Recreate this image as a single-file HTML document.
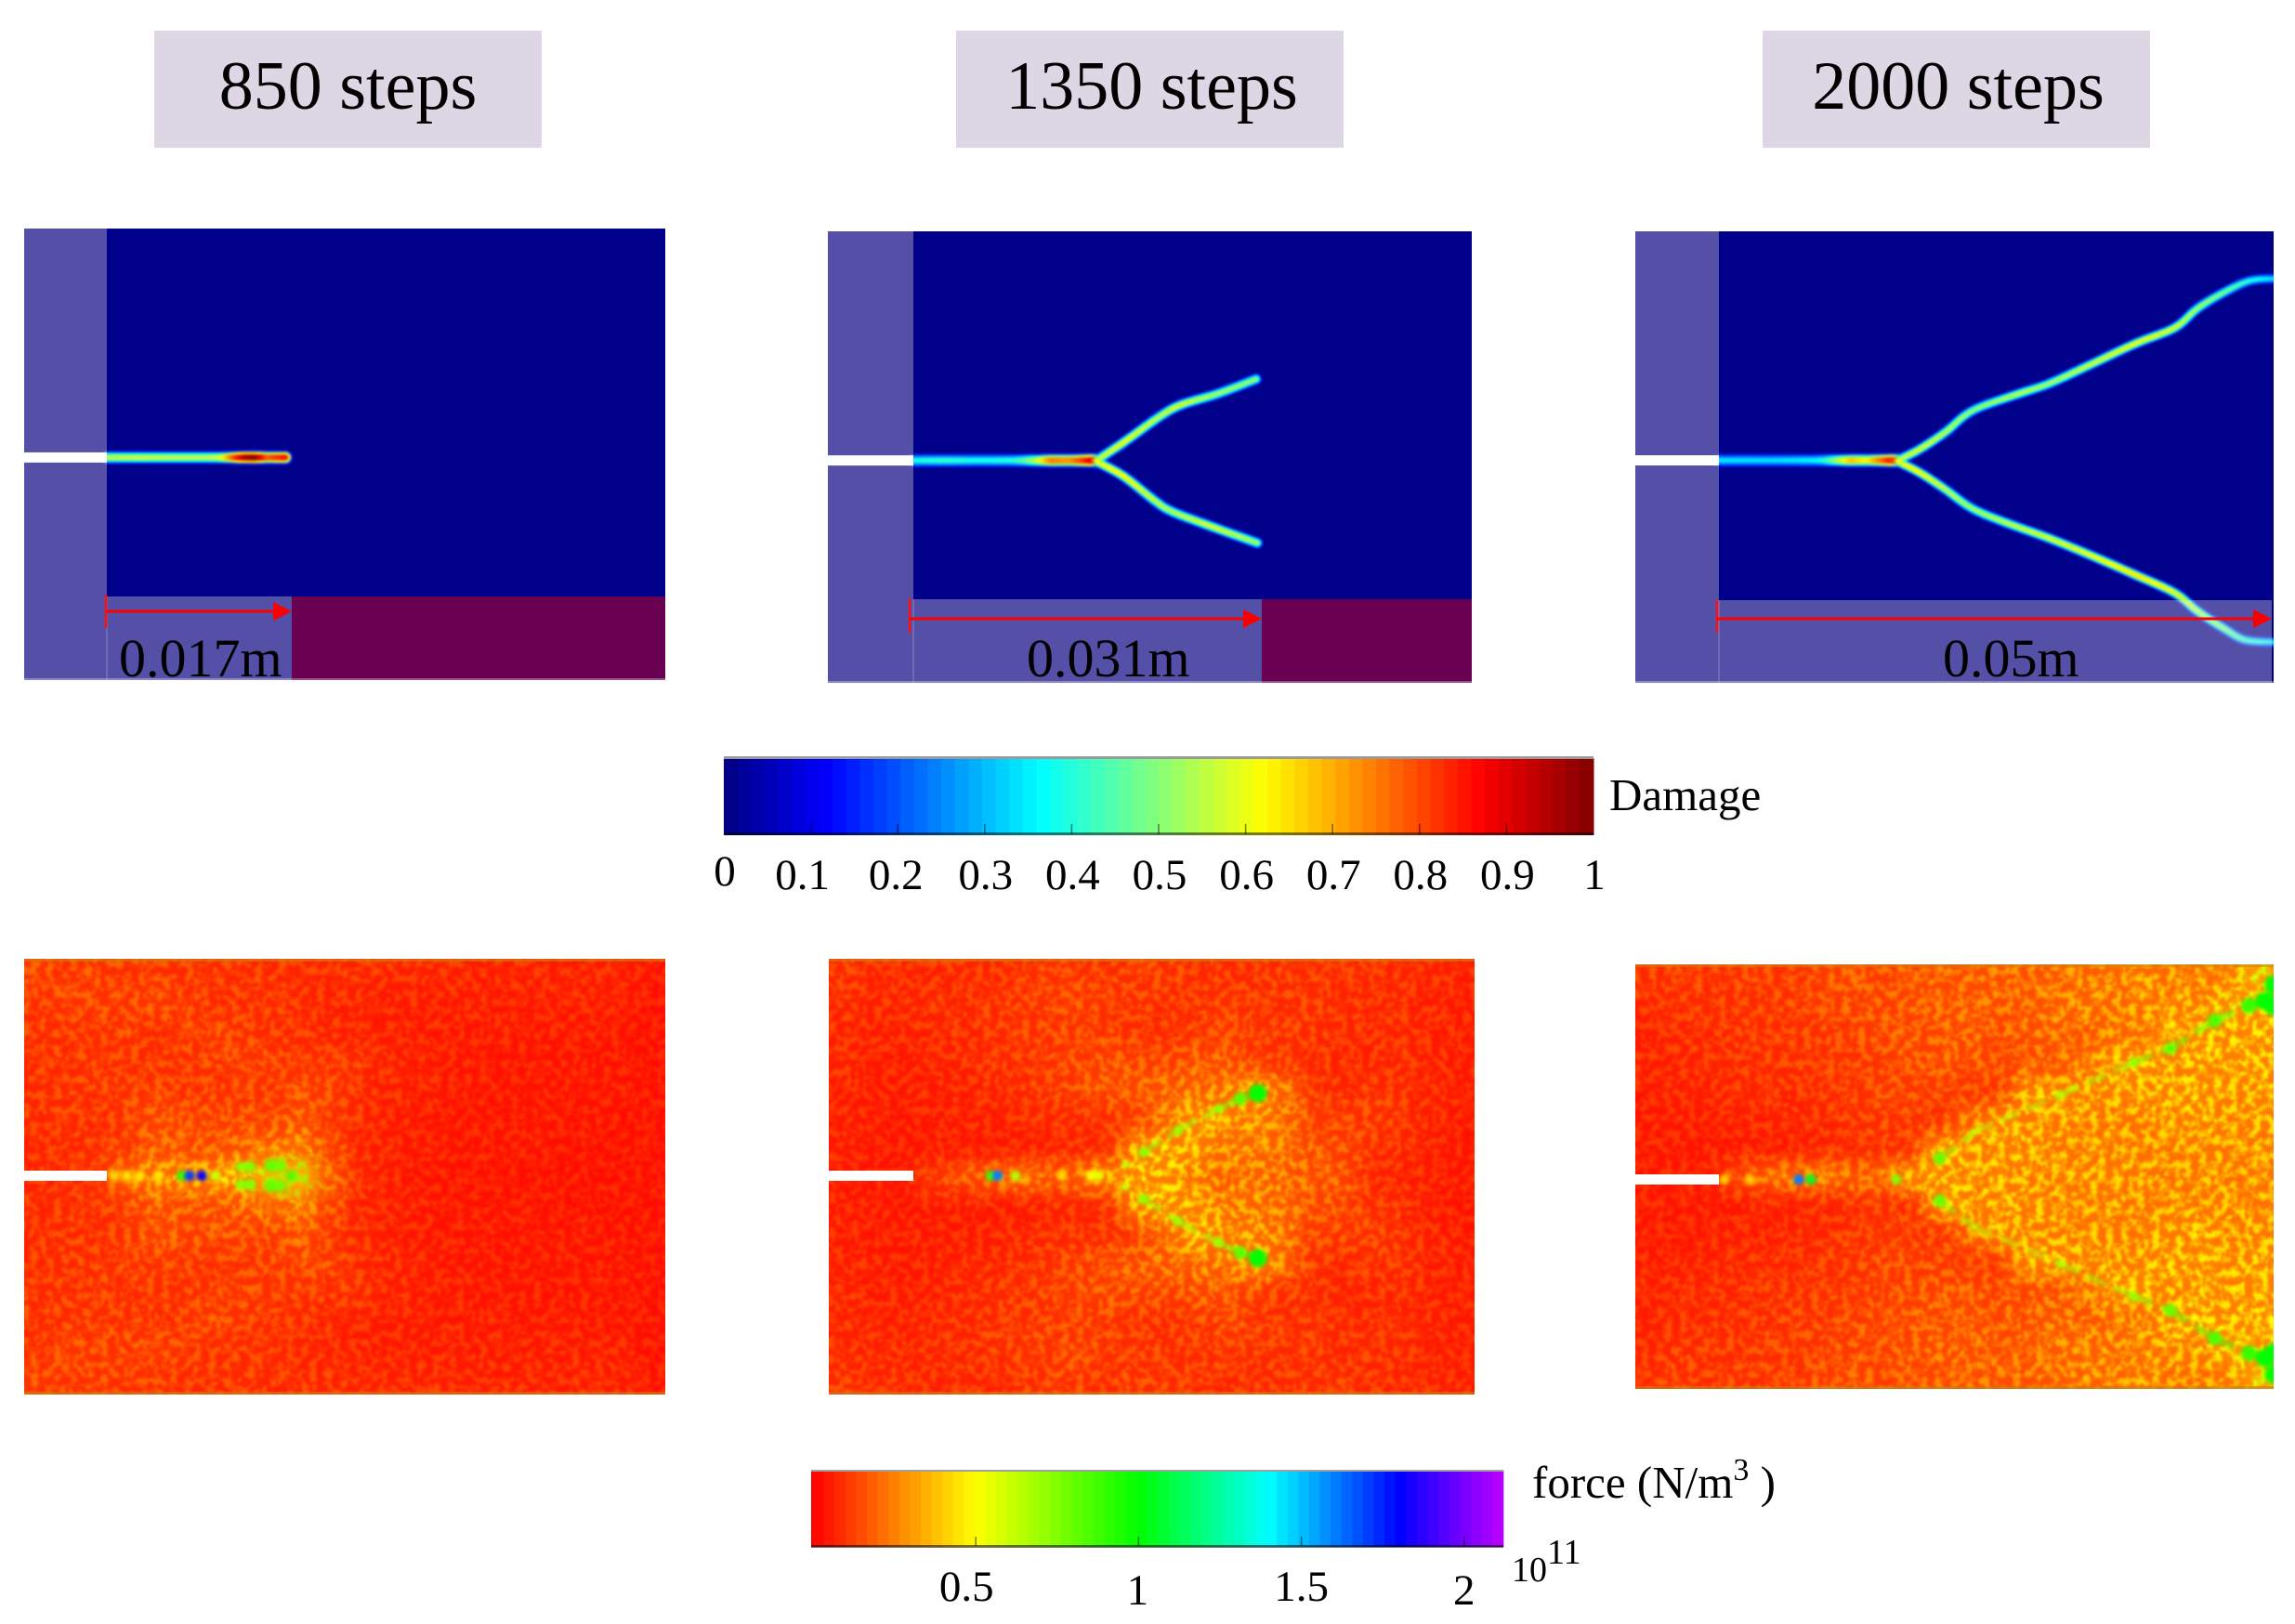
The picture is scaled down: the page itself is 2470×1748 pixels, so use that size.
<!DOCTYPE html>
<html lang="en">
<head>
<meta charset="utf-8">
<title>Crack propagation: damage and force fields</title>
<style>
html,body{margin:0;padding:0;background:#fff;width:2470px;height:1748px;overflow:hidden}
svg{display:block}
text{font-family:"Liberation Serif",serif;fill:#000}
</style>
</head>
<body>
<svg id="figure" xmlns="http://www.w3.org/2000/svg" width="2470" height="1748" viewBox="0 0 2470 1748">
<defs>
<filter id="crackBlur" filterUnits="userSpaceOnUse" x="0" y="0" width="2470" height="1748" color-interpolation-filters="sRGB"><feGaussianBlur stdDeviation="1.3"/></filter>
<filter id="fieldBlur" filterUnits="userSpaceOnUse" x="0" y="980" width="2470" height="570" color-interpolation-filters="sRGB"><feGaussianBlur stdDeviation="10"/></filter>
<filter id="spotBlur" filterUnits="userSpaceOnUse" x="0" y="980" width="2470" height="570" color-interpolation-filters="sRGB"><feGaussianBlur stdDeviation="2"/></filter>
<filter id="speckle" filterUnits="userSpaceOnUse" x="0" y="980" width="2470" height="570" color-interpolation-filters="sRGB">
<feGaussianBlur in="SourceGraphic" stdDeviation="10" result="soft"/>
<feTurbulence type="fractalNoise" baseFrequency="0.12" numOctaves="3" seed="4" result="noise"/>
<feColorMatrix in="noise" type="matrix" values="0 0 0 0 0 0 0 0 0 0 0 0 0 0 0 4 0 0 0 -1.7" result="mask"/>
<feGaussianBlur in="mask" stdDeviation="1" result="softMask"/>
<feComposite in="soft" in2="softMask" operator="in"/>
</filter>
<clipPath id="clip-damage-850"><rect x="26" y="246" width="690" height="486"/></clipPath>
<clipPath id="clip-damage-1350"><rect x="891" y="249" width="693" height="486"/></clipPath>
<clipPath id="clip-damage-2000"><rect x="1760" y="249" width="687" height="486"/></clipPath>
<clipPath id="clip-force-850"><rect x="26" y="1032" width="690" height="469"/></clipPath>
<clipPath id="clip-force-1350"><rect x="892" y="1032" width="695" height="469"/></clipPath>
<clipPath id="clip-force-2000"><rect x="1760" y="1038" width="687" height="457"/></clipPath>
</defs>

<g>
<rect x="166" y="33" width="417" height="126" fill="#dcd6e5"/>
<text x="374.5" y="117" font-size="74" text-anchor="middle">850 steps</text>
<rect x="1029" y="33" width="417" height="126" fill="#dcd6e5"/>
<text x="1239.5" y="117" font-size="74" text-anchor="middle">1350 steps</text>
<rect x="1897" y="33" width="417" height="126" fill="#dcd6e5"/>
<text x="2107.5" y="117" font-size="74" text-anchor="middle">2000 steps</text>
</g>

<g id="damagePanels"></g>
<g id="forcePanels"></g>

<g id="damageBar"></g>
<text x="1732" y="872" font-size="49">Damage</text>

<g id="forceBar"></g>
<text x="1649" y="1612" font-size="49">force (N/m<tspan font-size="34" dy="-19">3</tspan><tspan dy="19"> )</tspan></text>
<text x="1627" y="1702" font-size="38">10<tspan dy="-19">11</tspan></text>
</svg>

<script>
// ---------- colour scale values ----------
const damageStopValues = [0, 0.12, 0.365, 0.62, 0.87, 1];
const damageStopColors = [[0,0,130],[0,0,255],[0,255,255],[255,255,0],[255,0,0],[128,0,0]];
const forceStopValues = [0, 0.5, 1, 1.4, 1.8, 2.12];
const forceStopColors = [[255,0,0],[255,255,0],[0,255,0],[0,255,255],[0,0,255],[190,0,255]];

// ---------- colourbar ticks ----------
const damageTicks = [0, 0.1, 0.2, 0.3, 0.4, 0.5, 0.6, 0.7, 0.8, 0.9, 1];
const damageTickLabels = ['0', '0.1', '0.2', '0.3', '0.4', '0.5', '0.6', '0.7', '0.8', '0.9', '1'];
const forceTicks = [0.5, 1, 1.5, 2];
const forceTickLabels = ['0.5', '1', '1.5', '2'];

// ---------- crack paths: [x mm from notch, y mm from centre, damage] ----------
const crack850Stem = [[0,0,.55],[3,0,.56],[6,0,.55],[9,0,.55],[10.3,0,.58],[11.5,0,.8],[12.5,0,.95],[13.5,0,.98],[14.5,0,.78],[15.3,0,.82],[16,0,.85]];
const crack1350Stem = [[0,0,.38],[3,0,.41],[6,0,.38],[9,0,.4],[10,0,.45],[11.3,0,.58],[12.5,0,.75],[14,0,.72],[15.2,0,.8],[16,0,.9],[16.4,0,.7]];
const crack1350Upper = [[16.4,0,.55],[18.8,1.6,.6],[22,3.9,.55],[24,5,.58],[27.3,6,.52],[30.7,7.3,.5]];
const crack1350Lower = [[16.4,-.1,.6],[18.8,-1.4,.62],[21.6,-3.6,.56],[23.2,-4.6,.54],[26.9,-6,.58],[30.8,-7.4,.52]];
const crack2000Stem = [[0,0,.34],[5,0,.33],[9,0,.36],[10.5,0,.5],[12,0,.68],[13.5,0,.62],[15.5,0,.85],[16.1,0,.75]];
const crack2000Upper = [[16.1,0,.55],[18.1,1,.58],[20.5,2.6,.55],[22,3.9,.52],[23.6,4.8,.5],[27.1,6,.55],[29.8,6.9,.52],[33.3,8.5,.56],[37.6,10.5,.6],[41.1,11.9,.58],[43.1,13.6,.52],[45.4,15,.48],[47.8,16.1,.4],[50,16.3,.33]];
const crack2000Lower = [[16.1,-.1,.6],[18.1,-1.1,.62],[20.4,-2.6,.56],[22.8,-4.3,.52],[25.9,-5.6,.55],[29.8,-7,.58],[33.7,-8.6,.6],[37.6,-10.3,.64],[41.1,-11.9,.6],[43.1,-13.5,.55],[45.4,-15,.5],[47.4,-16.1,.42],[50,-16.3,.34]];

// ---------- force field grids, 1e11 N/m^3, top row to centre row (mirrored below) ----------
const force850Rows = [
[.16,.14,.15,.13,.14,.12,.12,.12,.11,.11,.1,.1,.09,.09,.09,.08,.08,.08,.08,.08,.08,.05],
[.13,.16,.15,.15,.17,.14,.12,.12,.12,.1,.09,.08,.07,.07,.07,.07,.07,.07,.07,.07,.07,.04],
[.12,.13,.13,.14,.12,.14,.16,.13,.12,.11,.09,.08,.07,.07,.06,.06,.06,.06,.06,.06,.05,.04],
[.12,.12,.13,.12,.12,.13,.14,.16,.14,.13,.12,.12,.08,.07,.06,.06,.05,.05,.05,.05,.05,.04],
[.11,.12,.13,.14,.15,.13,.13,.14,.14,.17,.16,.1,.08,.07,.06,.05,.05,.05,.05,.05,.05,.04],
[.11,.12,.11,.14,.2,.18,.18,.17,.16,.22,.13,.1,.07,.06,.05,.05,.05,.05,.05,.05,.04,.04],
[.1,.11,.12,.14,.22,.2,.2,.24,.28,.3,.18,.09,.07,.06,.05,.05,.05,.05,.04,.04,.04,.04],
[.1,.1,.14,.3,.34,.36,.4,.42,.6,.62,.24,.1,.07,.05,.05,.04,.04,.04,.04,.04,.04,.04]
];
const force1350Rows = [
[.12,.1,.1,.09,.1,.1,.12,.14,.14,.12,.14,.13,.12,.11,.11,.12,.12,.12,.11,.1,.09,.08],
[.1,.09,.09,.1,.1,.12,.13,.15,.16,.14,.13,.12,.12,.14,.13,.12,.12,.1,.11,.1,.08,.07],
[.09,.08,.08,.09,.1,.11,.13,.14,.15,.14,.12,.11,.14,.16,.14,.12,.12,.1,.1,.1,.08,.07],
[.09,.07,.07,.08,.09,.11,.12,.14,.16,.18,.18,.17,.2,.21,.15,.12,.11,.09,.09,.1,.08,.07],
[.08,.07,.06,.07,.08,.09,.11,.13,.16,.2,.22,.25,.27,.3,.4,.28,.12,.1,.12,.11,.08,.07],
[.07,.06,.06,.06,.07,.07,.09,.1,.11,.12,.15,.28,.42,.36,.34,.28,.16,.15,.14,.12,.08,.06],
[.07,.06,.05,.06,.06,.06,.06,.08,.09,.1,.4,.42,.38,.32,.3,.28,.2,.17,.12,.1,.07,.05],
[.06,.06,.06,.14,.2,.24,.32,.24,.28,.4,.4,.4,.34,.26,.3,.26,.22,.2,.1,.08,.07,.06]
];
const force2000Rows = [
[.12,.14,.12,.14,.14,.14,.18,.2,.18,.2,.22,.22,.24,.24,.26,.3,.3,.34,.32,.32,.36,.5],
[.1,.12,.12,.12,.14,.14,.16,.18,.18,.2,.22,.24,.22,.24,.28,.3,.3,.34,.36,.38,.46,.42],
[.08,.1,.1,.12,.12,.14,.14,.16,.18,.2,.2,.22,.2,.22,.26,.24,.3,.32,.42,.42,.4,.42],
[.08,.09,.1,.1,.12,.12,.14,.14,.16,.18,.2,.2,.18,.2,.22,.3,.4,.42,.38,.4,.4,.4],
[.07,.08,.08,.1,.1,.1,.12,.14,.16,.16,.16,.14,.14,.4,.4,.38,.38,.38,.4,.4,.38,.4],
[.06,.06,.07,.08,.08,.09,.1,.12,.14,.14,.12,.28,.4,.36,.36,.36,.34,.36,.38,.4,.36,.38],
[.06,.06,.06,.06,.07,.07,.09,.1,.12,.12,.42,.38,.38,.38,.36,.34,.36,.34,.36,.36,.36,.36],
[.05,.06,.06,.2,.26,.3,.32,.26,.28,.42,.4,.38,.38,.36,.36,.38,.36,.36,.34,.36,.34,.36]
];

// ---------- force hot spots: [x mm, |y| mm, force] (mirrored about the crack) ----------
const force850Spots = [[.6,0,.42],[1.8,0,.45],[3,0,.45],[4.6,0,.45],[6.7,0,.9],[7.4,0,1.7],[8.5,0,1.8],[9.7,0,.6],[12,.8,.72],[12.8,.8,.75],[14.7,.9,.8],[15.5,.9,.78],[16.5,0,.85]];
const force1350Spots = [[6.9,0,.9],[7.5,0,1.6],[9.1,0,.65],[13.2,0,.42],[15.8,0,.5],[16.5,0,.55],[18.9,1,.62],[20.5,2.1,.72],[23.6,4.1,.7],[27.2,6,.7],[29.1,6.9,.82],[30.7,7.4,1]];
const force2000Spots = [[.5,0,.4],[2.8,0,.4],[7.2,0,1.6],[8.3,0,1.05],[16,0,.75],[19.9,1.9,.8],[23,4.25,.6],[30.8,7.6,.65],[37.4,10.5,.7],[40.7,11.75,.8],[44.7,14.25,.85],[47.8,15.6,.9],[49.2,16,1],[50,17.5,1],[50,15.5,1]];

// ---------- panel layout ----------
const damagePanels = [
  {key:'850', x0:26, xs:115, x1:716, y0:246, y1:732, band:642, yc:492.4, tip:314, arrowY:658, tickX:114, tickTop:640, tickBot:676, cracks:[crack850Stem], base:[13.5], label:'0.017m', labelX:128},
  {key:'1350', x0:891, xs:983, x1:1584, y0:249, y1:735, band:645, yc:495.6, tip:1358, arrowY:666, tickX:979, tickTop:644, tickBot:681, cracks:[crack1350Stem,crack1350Upper,crack1350Lower], base:[14.5,12,12], label:'0.031m', labelX:1105},
  {key:'2000', x0:1760, xs:1850, x1:2447, y0:249, y1:735, band:646, yc:495.5, tip:2445, arrowY:666, tickX:1848, tickTop:646, tickBot:681, cracks:[crack2000Stem,crack2000Upper,crack2000Lower], base:[14.5,11.5,11.5], label:'0.05m', labelX:2091}
];
const forcePanels = [
  {key:'850', x0:26, xs:115, x1:716, y0:1032, y1:1501, yc:1265.5, rows:force850Rows, spots:force850Spots},
  {key:'1350', x0:892, xs:983, x1:1587, y0:1032, y1:1501, yc:1265.5, rows:force1350Rows, spots:force1350Spots},
  {key:'2000', x0:1760, xs:1850, x1:2447, y0:1038, y1:1495, yc:1269.5, rows:force2000Rows, spots:force2000Spots}
];

const SVGNS = 'http://www.w3.org/2000/svg';
function el(parent, tag, attrs) {
  const n = document.createElementNS(SVGNS, tag);
  for (const k in attrs) n.setAttribute(k, attrs[k]);
  parent.appendChild(n);
  return n;
}
function ramp(values, colors, v) {
  if (v <= values[0]) return 'rgb(' + colors[0].join(',') + ')';
  for (let i = 1; i < values.length; i++) {
    if (v <= values[i]) {
      const t = (v - values[i-1]) / (values[i] - values[i-1]);
      const c = colors[i-1].map((a, j) => Math.round(a + (colors[i][j] - a) * t));
      return 'rgb(' + c.join(',') + ')';
    }
  }
  return 'rgb(' + colors[colors.length-1].join(',') + ')';
}
const jetColor = v => ramp(damageStopValues, damageStopColors, v);
const forceColor = v => ramp(forceStopValues, forceStopColors, v);
const panelX = (p, mm) => p.xs + mm * (p.x1 - p.xs) / 50;
const panelY = (p, mm) => p.yc - mm * 12;

// curve smoothing used only while drawing a path (Catmull-Rom through the read points)
function smoothPath(pts) {
  const out = [];
  for (let i = 0; i < pts.length - 1; i++) {
    const a = pts[Math.max(i-1,0)], b = pts[i], c = pts[i+1], d = pts[Math.min(i+2,pts.length-1)];
    for (let k = 0; k < 5; k++) {
      const t = k / 5, t2 = t*t, t3 = t2*t;
      const q = j => 0.5*((2*b[j]) + (-a[j]+c[j])*t + (2*a[j]-5*b[j]+4*c[j]-d[j])*t2 + (-a[j]+3*b[j]-3*c[j]+d[j])*t3);
      out.push([q(0), q(1), b[2] + (c[2]-b[2])*t]);
    }
  }
  out.push(pts[pts.length-1]);
  return out;
}

// ---------- damage panels ----------
const damageRoot = document.getElementById('damagePanels');
damagePanels.forEach(p => {
  const g = el(damageRoot, 'g', {});
  
  
  const field = el(g, 'rect', {x:p.x0, y:p.y0, width:p.x1-p.x0, height:p.y1-p.y0, fill:'#00008a'});
  
  
  const clip = el(g, 'g', {'clip-path':'url(#clip-damage-' + p.key + ')'});
  
  
  const blur = el(clip, 'g', {filter:'url(#crackBlur)', fill:'none', 'stroke-linecap':'round', 'stroke-linejoin':'round'});
  
  
  [[1, 0.14], [0.74, 0.68], [0.38, 1]].forEach(layer => {
    p.cracks.forEach((raw, ci) => {
      const pts = smoothPath(raw);
      for (let i = 1; i < pts.length; i++) {
        const a = pts[i-1], b = pts[i], d = (a[2] + b[2]) / 2;
        const w = p.base[ci] * (0.8 + 0.45 * d) * layer[0];
        const level = layer[1] === 0.14 ? 0.14 : d * layer[1];
        const seg = el(blur, 'line', {x1:panelX(p,a[0]), y1:panelY(p,a[1]), x2:panelX(p,b[0]), y2:panelY(p,b[1]), stroke:jetColor(level), 'stroke-width':w});
        
        
      }
    });
  });
  const strip = el(g, 'rect', {x:p.x0, y:p.y0, width:p.xs-p.x0, height:p.y1-p.y0, fill:'rgba(255,240,225,.335)'});
  
  
  const band = el(g, 'rect', {x:p.xs, y:p.band, width:Math.min(p.tip,p.x1)-p.xs, height:p.y1-p.band, fill:'rgba(255,240,225,.335)'});
  
  
  if (p.tip < p.x1 - 10) {
    const rest = el(g, 'rect', {x:p.tip, y:p.band, width:p.x1-p.tip, height:p.y1-p.band, fill:'rgba(255,0,0,.41)'});
    
    
  }
  const divider = el(g, 'rect', {x:p.xs-.5, y:p.band, width:1, height:p.y1-p.band, fill:'rgba(255,255,255,.3)'});
  
  
  const edge = el(g, 'rect', {x:p.x0, y:p.y1-2, width:p.x1-p.x0, height:2, fill:'rgba(255,255,255,.32)'});
  
  
  const slit = el(g, 'rect', {x:p.x0, y:p.yc-5.5, width:p.xs-p.x0, height:11, fill:'#fff'});
  
  
  const tick = el(g, 'line', {x1:p.tickX, x2:p.tickX, y1:p.tickTop, y2:p.tickBot, stroke:'#fa1010', 'stroke-width':2.5});
  
  
  const shaft = el(g, 'line', {x1:p.tickX, x2:p.tip-15, y1:p.arrowY, y2:p.arrowY, stroke:'#fa0000', 'stroke-width':3});
  
  
  const head = el(g, 'polygon', {points:(p.tip-20)+','+(p.arrowY-10)+' '+p.tip+','+p.arrowY+' '+(p.tip-20)+','+(p.arrowY+10), fill:'#fa0000'});
  
  
  const label = el(g, 'text', {x:p.labelX, y:728, 'font-size':58});
  label.textContent = p.label;
  
  
});

// ---------- force panels ----------
const forceRoot = document.getElementById('forcePanels');
forcePanels.forEach(p => {
  const g = el(forceRoot, 'g', {});
  
  
  const clip = el(g, 'g', {'clip-path':'url(#clip-force-' + p.key + ')'});
  
  
  const under = el(clip, 'rect', {x:p.x0, y:p.y0, width:p.x1-p.x0, height:p.y1-p.y0, fill:'#ff2000'});
  
  
  const baseLayer = el(clip, 'g', {filter:'url(#fieldBlur)'});
  
  
  const speckLayer = el(clip, 'g', {filter:'url(#speckle)'});
  
  
  const nCols = p.rows[0].length, nRows = p.rows.length * 2 - 1;
  const cw = (p.x1 - p.x0) / nCols, ch = (p.y1 - p.y0) / nRows;
  const pad = 45;
  for (let r = 0; r < nRows; r++) {
    const src = p.rows[r < p.rows.length ? r : nRows - 1 - r];
    for (let c = 0; c < nCols; c++) {
      const x = p.x0 + c * cw - (c === 0 ? pad : 0);
      const y = p.y0 + r * ch - (r === 0 ? pad : 0);
      const w = cw + 0.5 + (c === 0 || c === nCols - 1 ? pad : 0);
      const h = ch + 0.5 + (r === 0 || r === nRows - 1 ? pad : 0);
      const cell = el(baseLayer, 'rect', {x:x, y:y, width:w, height:h, fill:forceColor(src[c] * 0.62)});
      
      
      const sp = el(speckLayer, 'rect', {x:x, y:y, width:w, height:h, fill:forceColor(src[c] * 1.05 + 0.05)});
      
      
    }
  }
  const spots = el(clip, 'g', {filter:'url(#spotBlur)'});
  
  
  const branch = p.spots.filter(s => s[1] > 1);
  [1, -1].forEach(sign => {
    for (let i = 1; i < branch.length; i++) {
      const a = branch[i-1], b = branch[i];
      const link = el(spots, 'line', {x1:panelX(p,a[0]), y1:panelY(p,a[1]*sign), x2:panelX(p,b[0]), y2:panelY(p,b[1]*sign), stroke:forceColor((a[2]+b[2])/2), 'stroke-width':6, 'stroke-dasharray':'22 9', opacity:.6});
      
      
    }
  });
  p.spots.forEach(s => {
    (s[1] === 0 ? [1] : [1, -1]).forEach(sign => {
      const dot = el(spots, 'circle', {cx:panelX(p, s[0]), cy:panelY(p, s[1] * sign), r:s[1] === 0 ? 5.5 : 4 + Math.max(0, s[2] - 0.6) * 14, fill:forceColor(s[2])});
      
      
    });
  });
  const top = el(clip, 'rect', {x:p.x0, y:p.y0, width:p.x1-p.x0, height:3, fill:'rgba(200,130,20,.6)'});
  
  
  const bottom = el(clip, 'rect', {x:p.x0, y:p.y1-3, width:p.x1-p.x0, height:3, fill:'rgba(200,130,20,.6)'});
  
  
  const slit = el(g, 'rect', {x:p.x0, y:p.yc-5.5, width:p.xs-p.x0, height:11, fill:'#fff'});
  
  
});

// ---------- damage colourbar ----------
const damageBar = document.getElementById('damageBar');
const dBarX = v => 779 + v * 936;
for (let i = 0; i < 64; i++) {
  const s = el(damageBar, 'rect', {x:dBarX(i/64), y:816, width:936/64+0.5, height:83, fill:jetColor((i+0.5)/64)});
  
  
}
const dTop = el(damageBar, 'rect', {x:779, y:814, width:936, height:3, fill:'#9a9a9a'});


const dBottom = el(damageBar, 'rect', {x:779, y:896, width:936, height:3, fill:'rgba(0,0,0,.5)'});


damageTicks.forEach((t, i) => {
  if (t > 0 && t < 1) {
    const tick = el(damageBar, 'line', {x1:dBarX(t), x2:dBarX(t), y1:887, y2:898, stroke:'rgba(0,0,0,.5)', 'stroke-width':1.5});
    
    
  }
  const lbl = el(damageBar, 'text', {x:dBarX(t) + (t === 0.1 ? -9 : (t === 0.2 ? -2 : 1)), y:t === 0 ? 953 : 957, 'font-size':47, 'text-anchor':'middle'});
  lbl.textContent = damageTickLabels[i];
  
  
});

// ---------- force colourbar ----------
const forceBar = document.getElementById('forceBar');
const fBarX = v => 875 + v * 350.4;
const fMax = 2.12;
const fBack = el(forceBar, 'rect', {x:873, y:1583, width:4, height:82, fill:forceColor(0)});


for (let i = 0; i < 64; i++) {
  const s = el(forceBar, 'rect', {x:fBarX(i/64*fMax), y:1583, width:fMax*350.4/64+0.5, height:82, fill:forceColor((i+0.5)/64*fMax)});
  
  
}
const fTop = el(forceBar, 'rect', {x:873, y:1582, width:745, height:2, fill:'#a0a0a0'});


const fBottom = el(forceBar, 'rect', {x:873, y:1663, width:745, height:3, fill:'rgba(0,0,0,.55)'});


forceTicks.forEach((t, i) => {
  const tick = el(forceBar, 'line', {x1:fBarX(t), x2:fBarX(t), y1:1654, y2:1664, stroke:'rgba(0,0,0,.5)', 'stroke-width':1.5});
  
  
  const isDecimal = forceTickLabels[i].length > 1;
  const lbl = el(forceBar, 'text', {x:fBarX(t) + (t === 0.5 ? -10 : (t === 1 ? -1 : 0)), y:isDecimal ? 1723 : 1727, 'font-size':47, 'text-anchor':'middle'});
  lbl.textContent = forceTickLabels[i];
  
  
});
</script>
</body>
</html>
